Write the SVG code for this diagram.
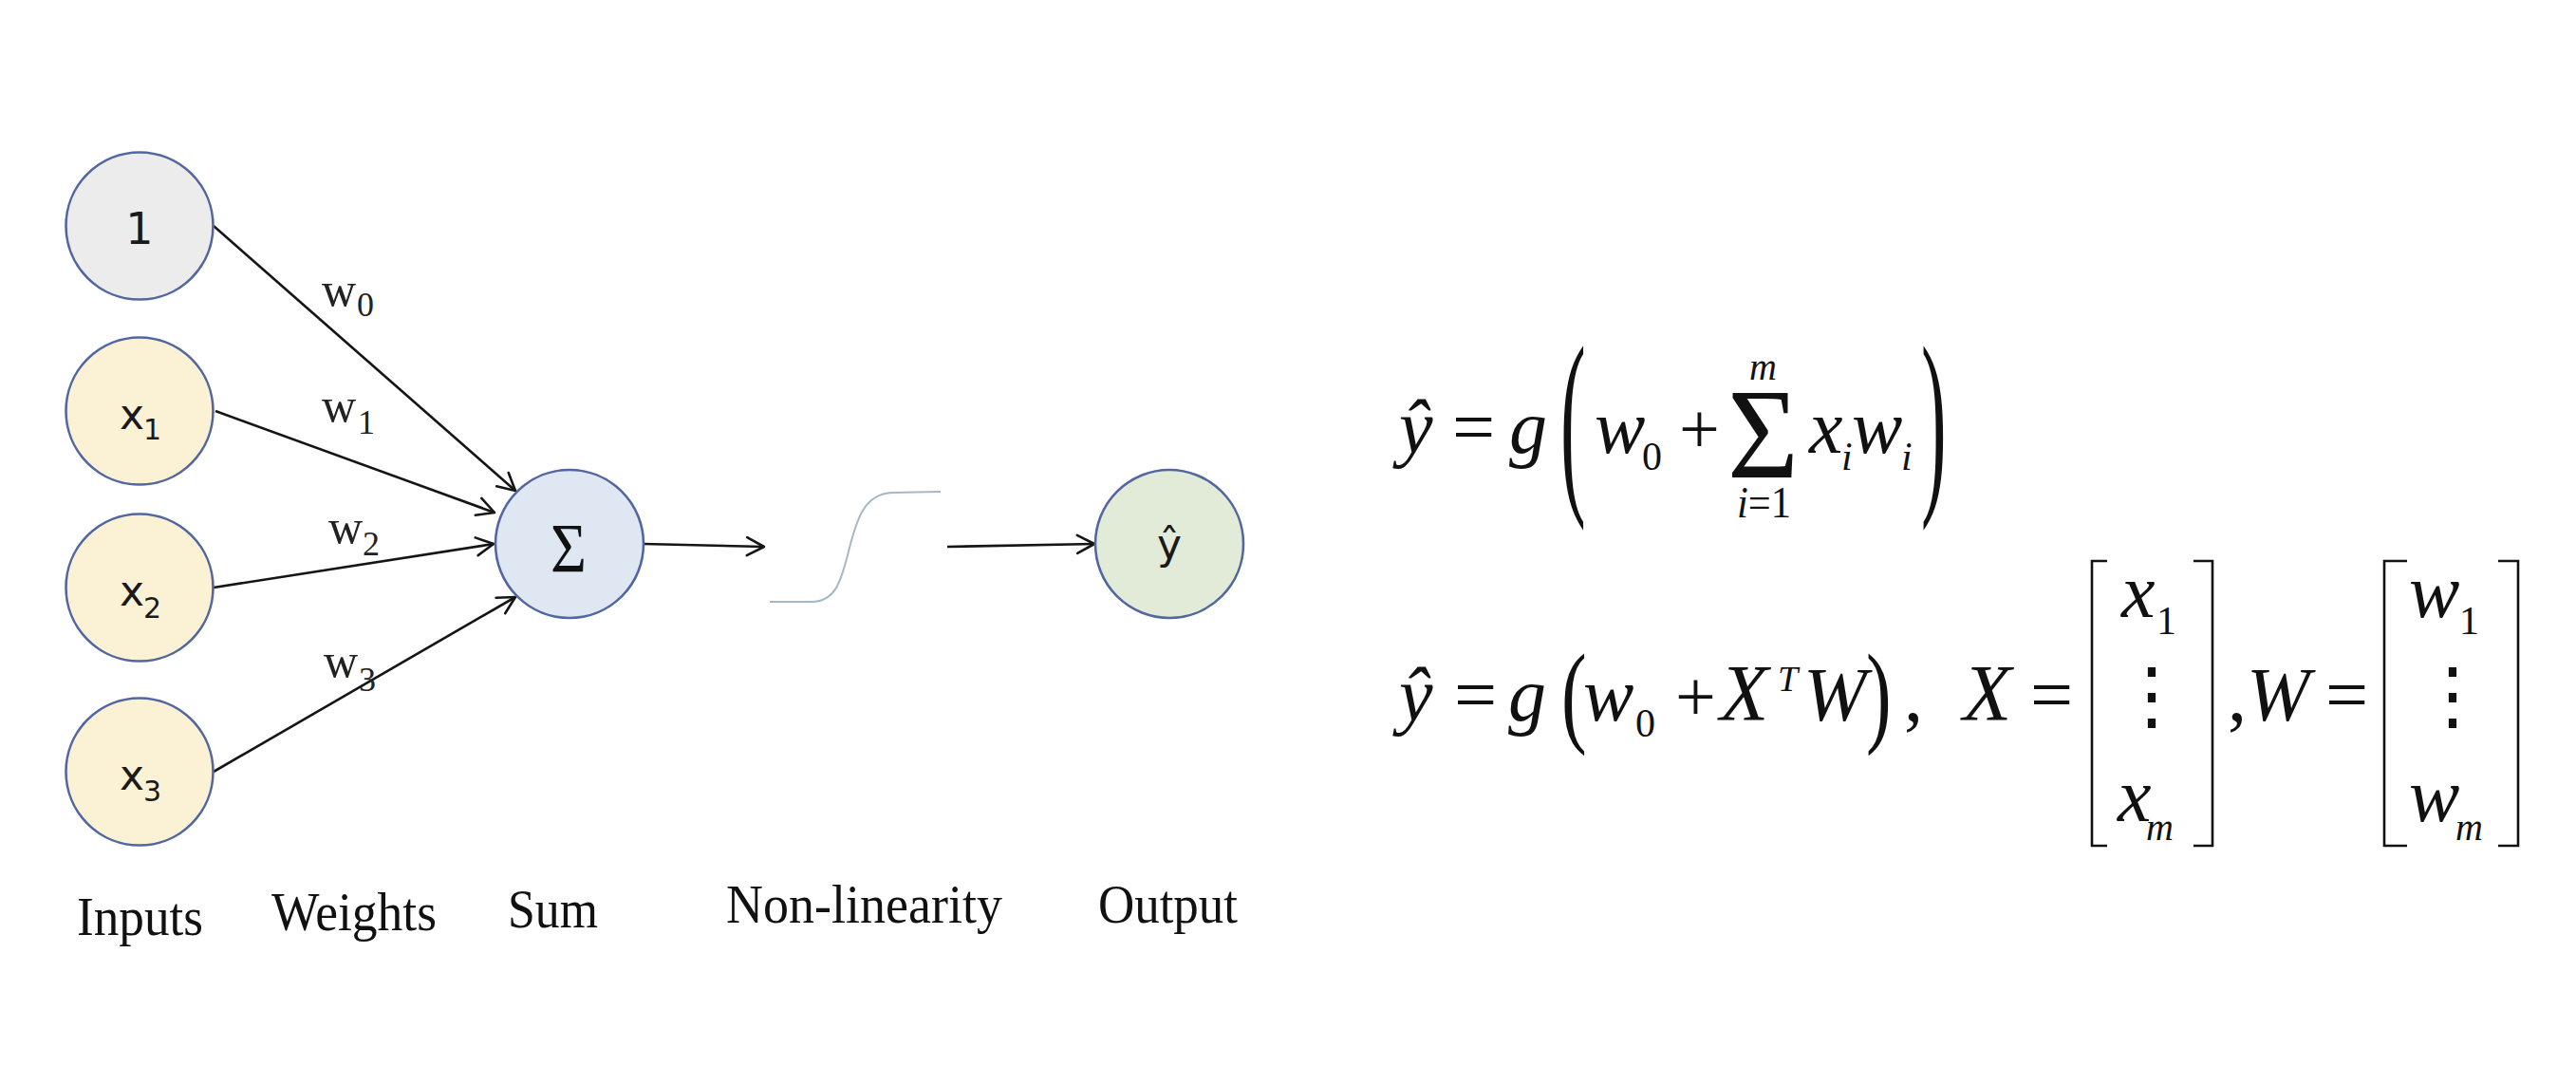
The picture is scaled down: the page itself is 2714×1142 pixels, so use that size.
<svg xmlns="http://www.w3.org/2000/svg" width="2714" height="1142" viewBox="0 0 2714 1142">
<defs>
<marker id="arr" viewBox="0 0 24 24" refX="21" refY="12" markerWidth="24" markerHeight="24" markerUnits="userSpaceOnUse" orient="auto">
<path d="M3,2.5 L21,12 L3,21.5" fill="none" stroke="#151515" stroke-width="2.6" stroke-linecap="round" stroke-linejoin="round"/>
</marker>
</defs>
<style>
.nd{stroke:#5266a0;stroke-width:2.6}
.nt{font-family:"DejaVu Sans","Noto Sans",sans-serif;fill:#1a1a1a}
.cn{fill:none;stroke:#151515;stroke-width:2.6;marker-end:url(#arr)}
.wl{font-family:"Liberation Serif","Times New Roman",serif;fill:#222}
.lb{font-family:"Liberation Serif","Times New Roman",serif;font-size:57px;fill:#111}
.fr{font-family:"Liberation Serif","Times New Roman",serif;fill:#111}
.fi{font-family:"Liberation Serif","Times New Roman",serif;font-style:italic;fill:#111}
.br{fill:none;stroke:#111;stroke-width:2.6}
</style>
<rect width="2714" height="1142" fill="#ffffff"/>

<g id="connectors">
<path class="cn" d="M225,238 L543,517"/>
<path class="cn" d="M227,433 L521,540"/>
<path class="cn" d="M225,619 L520,573"/>
<path class="cn" d="M225,813 L543,629"/>
<path class="cn" d="M678,573 L805,576"/>
<path class="cn" d="M998,576 L1153,573"/>
</g>

<g id="weight-labels" class="wl">
<text x="339" y="322" font-size="50">w</text><text x="376" y="333" font-size="36">0</text>
<text x="339" y="444" font-size="50">w</text><text x="377" y="457" font-size="36">1</text>
<text x="346" y="572" font-size="50">w</text><text x="382" y="585" font-size="36">2</text>
<text x="341" y="713" font-size="50">w</text><text x="378" y="728" font-size="36">3</text>
</g>

<g id="node-bias">
<circle class="nd" cx="147" cy="238" r="77.5" fill="#ececec"/>
<text class="nt" x="147" y="257" font-size="46" text-anchor="middle">1</text>
</g>
<g id="node-x1">
<circle class="nd" cx="147" cy="433" r="77.5" fill="#fbf1d4"/>
<text class="nt" x="126" y="452" font-size="44">x<tspan x="151" y="463" font-size="30">1</tspan></text>
</g>
<g id="node-x2">
<circle class="nd" cx="147" cy="619" r="77.5" fill="#fbf1d4"/>
<text class="nt" x="126" y="638" font-size="44">x<tspan x="151" y="651" font-size="30">2</tspan></text>
</g>
<g id="node-x3">
<circle class="nd" cx="147" cy="813" r="77.5" fill="#fbf1d4"/>
<text class="nt" x="126" y="832" font-size="44">x<tspan x="151" y="844" font-size="30">3</tspan></text>
</g>
<g id="node-sum">
<circle class="nd" cx="600" cy="573" r="78" fill="#dfe7f3"/>
<text x="599" y="603" font-family="Liberation Serif, serif" font-size="75" text-anchor="middle" textLength="38" lengthAdjust="spacingAndGlyphs" fill="#111">Σ</text>
</g>
<g id="node-nonlinearity">
<path d="M811,634 L855,634 C880,634 886,612 893,585 C902,548 910,520 940,519 L991,518" fill="none" stroke="#a6b8c4" stroke-width="2"/>
</g>
<g id="node-output">
<circle class="nd" cx="1232" cy="573" r="78" fill="#e2ebd8"/>
<text class="nt" x="1232" y="589" font-size="44" text-anchor="middle">ŷ</text>
</g>

<g id="stage-labels" class="lb">
<text x="81" y="985" textLength="133" lengthAdjust="spacingAndGlyphs">Inputs</text>
<text x="286" y="980" textLength="174" lengthAdjust="spacingAndGlyphs">Weights</text>
<text x="535" y="977" textLength="95" lengthAdjust="spacingAndGlyphs">Sum</text>
<text x="765" y="972" textLength="291" lengthAdjust="spacingAndGlyphs">Non-linearity</text>
<text x="1157" y="972" textLength="147" lengthAdjust="spacingAndGlyphs">Output</text>
</g>

<g id="formula-1" font-size="80">
<text class="fi" x="1474" y="477">ŷ</text>
<text class="fr" x="1530" y="477">=</text>
<text class="fi" x="1590" y="477">g</text>
<text class="fr" transform="translate(1644,513) scale(1,2.67)">(</text>
<text class="fi" x="1680" y="477">w</text>
<text class="fr" x="1730" y="495" font-size="42">0</text>
<text class="fr" x="1769" y="477" font-size="76">+</text>
<text class="fr" x="1820" y="503" font-size="136" textLength="75" lengthAdjust="spacingAndGlyphs">Σ</text>
<text class="fi" x="1843" y="400" font-size="40">m</text>
<text class="fr" x="1830" y="545" font-size="46" textLength="57" lengthAdjust="spacingAndGlyphs"><tspan font-style="italic">i</tspan>=1</text>
<text class="fi" x="1906" y="477">x</text>
<text class="fi" x="1940" y="495" font-size="42">i</text>
<text class="fi" x="1951" y="477">w</text>
<text class="fi" x="2003" y="495" font-size="42">i</text>
<text class="fr" transform="translate(2024,513) scale(1,2.67)">)</text>
</g>

<g id="formula-2" font-size="80">
<text class="fi" x="1474" y="759">ŷ</text>
<text class="fr" x="1532" y="759">=</text>
<text class="fi" x="1589" y="759">g</text>
<text class="fr" transform="translate(1645,771) scale(1,1.49)">(</text>
<text class="fi" x="1668" y="759">w</text>
<text class="fr" x="1723" y="776" font-size="42">0</text>
<text class="fr" x="1765" y="759" font-size="76">+</text>
<text class="fi" x="1812" y="759" font-size="84">X</text>
<text class="fi" x="1873" y="728" font-size="38">T</text>
<text class="fi" x="1900" y="759">W</text>
<text class="fr" transform="translate(1966,771) scale(1,1.49)">)</text>
<text class="fr" x="2006" y="759">,</text>
<text class="fi" x="2068" y="759" font-size="84">X</text>
<text class="fr" x="2139" y="759">=</text>
<path class="br" d="M2220,591 L2204,591 L2204,891 L2220,891"/>
<text class="fi" x="2235" y="650">x</text>
<text class="fr" x="2272" y="668" font-size="42">1</text>
<text x="2267" y="760" font-family="DejaVu Serif, serif" text-anchor="middle" fill="#111">⋮</text>
<text class="fi" x="2231" y="865">x</text>
<text class="fi" x="2261" y="885" font-size="40">m</text>
<path class="br" d="M2311,591 L2331,591 L2331,891 L2311,891"/>
<text class="fr" x="2347" y="759">,</text>
<text class="fi" x="2367" y="759">W</text>
<text class="fr" x="2450" y="759">=</text>
<path class="br" d="M2536,591 L2512,591 L2512,891 L2536,891"/>
<text class="fi" x="2538" y="650">w</text>
<text class="fr" x="2591" y="668" font-size="42">1</text>
<text x="2584" y="760" font-family="DejaVu Serif, serif" text-anchor="middle" fill="#111">⋮</text>
<text class="fi" x="2538" y="865">w</text>
<text class="fi" x="2587" y="885" font-size="40">m</text>
<path class="br" d="M2632,591 L2653,591 L2653,891 L2632,891"/>
</g>
</svg>
